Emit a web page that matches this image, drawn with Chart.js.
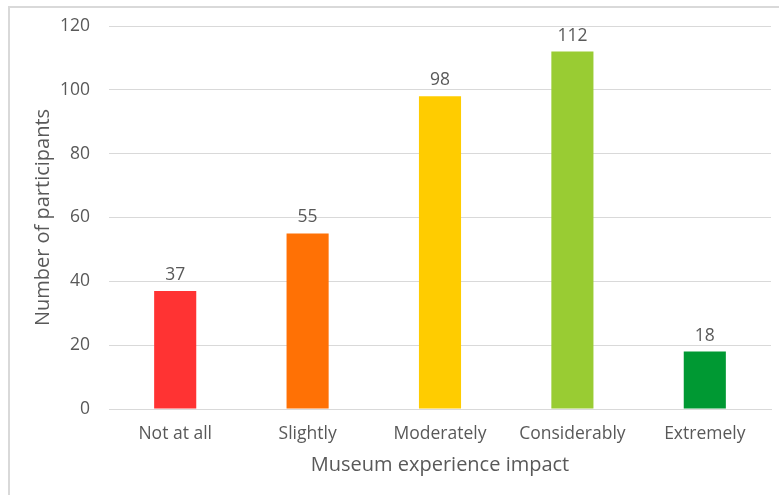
<!DOCTYPE html>
<html>
<head>
<meta charset="utf-8">
<script src="https://cdn.jsdelivr.net/npm/chart.js@4"></script>
<style>
  html, body { margin: 0; padding: 0; background: #fff; overflow: hidden; }
  #frame {
    position: absolute; left: 8px; top: 6px; width: 800px; height: 520px;
    border-left: 2px solid #d9d9d9; border-top: 2px solid #d9d9d9;
  }
  #wrap { position: absolute; left: 0; top: 0; width: 779px; height: 495px; }
</style>
</head>
<body>
<div id="frame"></div>
<div id="wrap"><canvas id="impactChart" width="779" height="495"></canvas></div>
<script>
const categories = ["Not at all", "Slightly", "Moderately", "Considerably", "Extremely"];
const participants = [37, 55, 98, 112, 18];
const barColors = ["#FF3333", "#FF7105", "#FFCC00", "#99CC33", "#009933"];
const yTicks = [0, 20, 40, 60, 80, 100, 120];

// draws the value above each bar
const valueLabels = {
    id: "valueLabels",
    afterDatasetsDraw(chart) {
        const ctx = chart.ctx;
        const meta = chart.getDatasetMeta(0);
        ctx.save();
        ctx.font = "17.5px 'Open Sans'";
        ctx.fillStyle = "#595959";
        ctx.textAlign = "center";
        ctx.textBaseline = "alphabetic";
        meta.data.forEach((bar, i) => {
            ctx.fillText(String(participants[i]), bar.x, bar.y - 11);
        });
        ctx.restore();
    }
};

new Chart("impactChart", {
    type: "bar",
    data: {
        labels: categories,
        datasets: [{
            data: participants,
            backgroundColor: barColors,
            borderWidth: 0,
            barPercentage: 1,
            categoryPercentage: 0.318
        }]
    },
    options: {
        responsive: false,
        animation: false,
        devicePixelRatio: 1,
        layout: { padding: { left: 31, right: 8, top: 26, bottom: 18 } },
        plugins: {
            legend: { display: false },
            tooltip: { enabled: false }
        },
        scales: {
            x: {
                afterFit: axis => { axis.height = 68; },
                grid: { display: false, drawTicks: false },
                border: { color: "#d9d9d9", width: 1 },
                ticks: {
                    color: "#595959",
                    font: { family: "'Open Sans'", size: 17.5 },
                    padding: 15
                },
                title: {
                    display: true,
                    text: "Museum experience impact",
                    color: "#595959",
                    font: { family: "'Open Sans'", size: 20 },
                    padding: { top: 0, bottom: 0 }
                }
            },
            y: {
                min: 0,
                max: 120,
                afterBuildTicks: axis => { axis.ticks = yTicks.map(v => ({ value: v })); },
                afterFit: axis => { axis.width = 78; axis.paddingTop = 0; },
                grid: { color: "#d9d9d9", drawTicks: false, lineWidth: 1 },
                border: { display: false },
                ticks: {
                    color: "#595959",
                    font: { family: "'Open Sans'", size: 17.5, lineHeight: 1 },
                    padding: 19
                },
                title: {
                    display: true,
                    text: "Number of participants",
                    color: "#595959",
                    font: { family: "'Open Sans'", size: 20 },
                    padding: { top: 0, bottom: 0 }
                }
            }
        }
    },
    plugins: [valueLabels]
});
</script>
</body>
</html>
